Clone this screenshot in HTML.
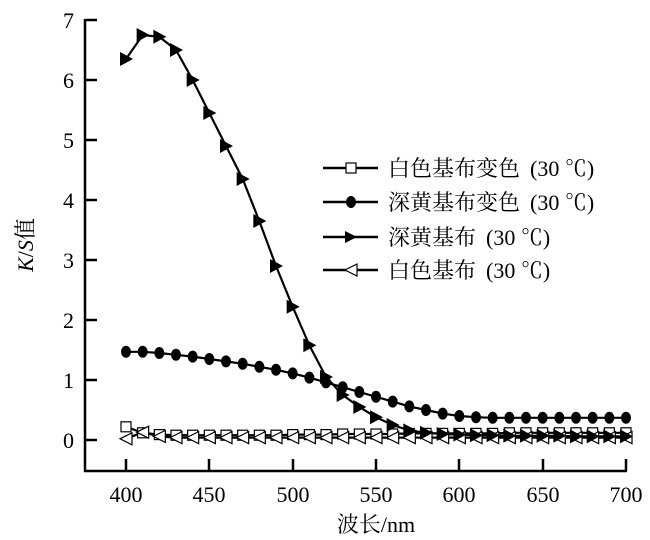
<!DOCTYPE html>
<html><head><meta charset="utf-8"><style>
body{margin:0;background:#fff}
svg{display:block}
text{font-family:"Liberation Serif","Noto Serif CJK SC",serif;fill:#000}
</style></head><body>
<svg id="s" width="650" height="540" xmlns="http://www.w3.org/2000/svg">
<g stroke="#000" stroke-width="2.5" fill="none">
<path d="M85,19 V471 H627"/>
<path d="M85,20 H97 M85,80 H97 M85,140 H97 M85,200 H97 M85,260 H97 M85,320 H97 M85,380 H97 M85,440 H97"/>
<path d="M126,471 V459 M209,471 V459 M293,471 V459 M376,471 V459 M459,471 V459 M543,471 V459 M626,471 V459"/>
</g>
<g font-size="22" text-anchor="end">
<text x="74" y="28">7</text><text x="74" y="88">6</text><text x="74" y="148">5</text><text x="74" y="208">4</text><text x="74" y="268">3</text><text x="74" y="328">2</text><text x="74" y="388">1</text><text x="74" y="448">0</text>
</g>
<g font-size="22" text-anchor="middle">
<text x="126" y="502">400</text><text x="209" y="502">450</text><text x="293" y="502">500</text><text x="376" y="502">550</text><text x="459" y="502">600</text><text x="543" y="502">650</text><text x="626" y="502">700</text>
<text x="376" y="532">波长/nm</text>
</g>
<text font-size="22" transform="translate(33,245) rotate(-90)" text-anchor="middle"><tspan font-style="italic">K</tspan>/<tspan font-style="italic">S</tspan>值</text>
<g id="series"></g>
<g font-size="22">
<text x="388" y="176">白色基布变色<tspan dx="10">(30 ℃)</tspan></text>
<text x="388" y="210">深黄基布变色<tspan dx="10">(30 ℃)</tspan></text>
<text x="388" y="245">深黄基布<tspan dx="10">(30 ℃)</tspan></text>
<text x="388" y="278">白色基布<tspan dx="10">(30 ℃)</tspan></text>
</g>
<g stroke="#000" stroke-width="2.5">
<path d="M323,168H378 M323,202H378 M323,237H378 M323,270H378"/>
</g>
<rect x="346" y="163" width="10" height="10" fill="#fff" stroke="#000" stroke-width="1.2"/>
<ellipse cx="351" cy="202" rx="5" ry="6" fill="#000"/>
<path d="M345,231 L357,237 L345,243Z" fill="#000"/>
<path d="M357,264 L345,270 L357,276Z" fill="#fff" stroke="#000" stroke-width="1.2"/>
</svg>
<script>
var X=function(v){return 126+(v-400)*500/300},Y=function(v){return 440-v*60};
var xs=[];for(var w=400;w<=700;w+=10)xs.push(w);
var tri=[6.35,6.75,6.72,6.5,6.0,5.45,4.9,4.35,3.65,2.9,2.22,1.58,1.05,0.75,0.55,0.38,0.25,0.16,0.12,0.1,0.09,0.08,0.08,0.07,0.07,0.07,0.07,0.06,0.06,0.06,0.06];
var cir=[1.47,1.47,1.45,1.42,1.39,1.35,1.31,1.27,1.22,1.17,1.11,1.04,0.96,0.88,0.8,0.72,0.64,0.56,0.5,0.44,0.4,0.38,0.37,0.37,0.37,0.37,0.37,0.37,0.37,0.37,0.37];
var sq=[0.22,0.12,0.09,0.08,0.08,0.08,0.08,0.08,0.08,0.08,0.09,0.09,0.09,0.1,0.1,0.1,0.1,0.11,0.11,0.11,0.11,0.11,0.11,0.12,0.12,0.12,0.12,0.12,0.12,0.12,0.12];
var lt=[0.02,0.13,0.06,0.04,0.04,0.04,0.04,0.04,0.04,0.04,0.04,0.04,0.04,0.04,0.04,0.04,0.04,0.04,0.04,0.04,0.04,0.04,0.04,0.04,0.04,0.04,0.04,0.04,0.04,0.04,0.04];
var h='';
function line(d){var p='M';d.forEach(function(v,i){p+=X(xs[i]).toFixed(1)+','+Y(v).toFixed(1)+' '});return '<path d="'+p+'" fill="none" stroke="#000" stroke-width="2.2"/>';}
[sq,cir,tri,lt].forEach(function(d){h+=line(d)});
sq.forEach(function(v,i){h+='<rect x="'+(X(xs[i])-5)+'" y="'+(Y(v)-5)+'" width="10" height="10" fill="#fff" stroke="#000" stroke-width="1.2"/>'});
cir.forEach(function(v,i){h+='<ellipse cx="'+X(xs[i])+'" cy="'+Y(v)+'" rx="5" ry="6" fill="#000"/>'});
lt.forEach(function(v,i){var x=X(xs[i]),y=Y(v);h+='<path d="M'+(x+6)+','+(y-6)+' L'+(x-6)+','+y+' L'+(x+6)+','+(y+6)+'Z" fill="#fff" stroke="#000" stroke-width="1.2"/>'});
tri.forEach(function(v,i){var x=X(xs[i]),y=Y(v);h+='<path d="M'+(x-6)+','+(y-7)+' L'+(x+7)+','+y+' L'+(x-6)+','+(y+7)+'Z" fill="#000"/>'});
document.getElementById('series').innerHTML=h;
</script>
</body></html>
